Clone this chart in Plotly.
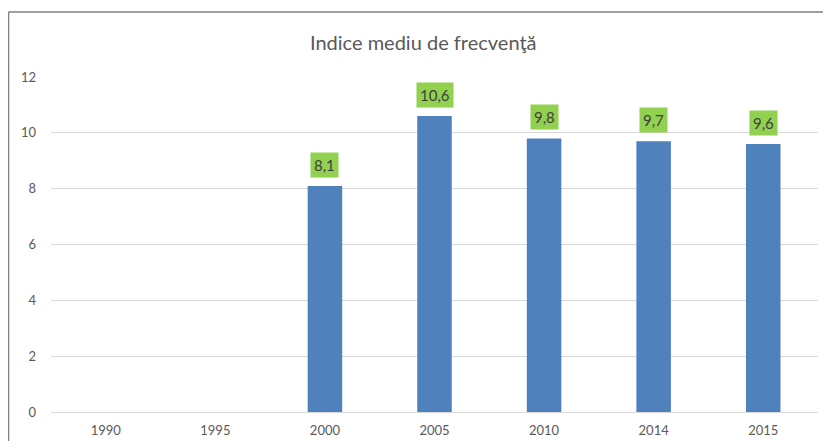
import plotly.graph_objects as go

years = ["1990", "1995", "2000", "2005", "2010", "2014", "2015"]
values = [None, None, 8.1, 10.6, 9.8, 9.7, 9.6]
title_text = "Indice mediu de frecvenţă"

# page body has an 8px margin; work in reference pixel coords then offset
OFF = 8
W, H = 831 - OFF, 441 - OFF
PL, PR, PT, PB = 51, 818, 77, 412  # plot area in reference pixels
L, T = PL - OFF, PT - OFF
R, B = W - (PR - OFF), H - (PB - OFF)
pw, ph = W - L - R, H - T - B

def px_x(p):
    return (p - OFF - L) / pw

def px_y(p):
    return (H - B - (p - OFF)) / ph

fig = go.Figure()
fig.add_trace(go.Bar(
    x=years, y=values,
    marker=dict(color="#4F81BD", line=dict(color="#4F81BD", width=0)),
    hoverinfo="x+y",
))

annotations = []
for i, v in enumerate(values):
    if v is None:
        continue
    annotations.append(dict(
        x=i, y=v, xref="x", yref="y",
        text=f"{v:.1f}".replace(".", ","),
        showarrow=False, yanchor="bottom", yshift=8,
        bgcolor="#92D050", borderpad=3,
        font=dict(family="Lato, Open Sans, sans-serif", size=15, color="#404040"),
    ))

annotations.append(dict(
    x=px_x(423), y=px_y(42), xref="paper", yref="paper",
    text=title_text, showarrow=False, xanchor="center", yanchor="middle",
    font=dict(family="Lato, Open Sans, sans-serif", size=20, color="#595959"),
))

shapes = [
    dict(type="line", xref="paper", yref="paper",
         x0=px_x(8.5), x1=px_x(8.5), y0=px_y(12), y1=px_y(460),
         line=dict(color="#7F7F7F", width=1.5)),
    dict(type="line", xref="paper", yref="paper",
         x0=px_x(8.5), x1=px_x(850), y0=px_y(12), y1=px_y(12),
         line=dict(color="#7F7F7F", width=1.5)),
]

fig.update_layout(
    width=W, height=H,
    autosize=False,
    margin=dict(l=L, r=R, t=T, b=B, pad=0, autoexpand=False),
    paper_bgcolor="white", plot_bgcolor="white",
    bargap=0.685,
    showlegend=False,
    annotations=annotations,
    shapes=shapes,
    font=dict(family="Lato, Open Sans, sans-serif", color="#595959"),
)
fig.update_xaxes(
    type="category", categoryorder="array", categoryarray=years,
    range=[-0.5, len(years) - 0.5], automargin=False,
    showgrid=False, showline=False, zeroline=False,
    ticks="", ticklabelstandoff=9,
    tickfont=dict(size=13, color="#595959"),
)
fig.update_yaxes(
    range=[0, 12], dtick=2, tick0=0, automargin=False,
    showgrid=True, gridcolor="#D9D9D9", gridwidth=1,
    zeroline=True, zerolinecolor="#D9D9D9", zerolinewidth=1,
    showline=False, ticks="", ticklabelstandoff=14,
    tickfont=dict(size=13, color="#595959"),
)

fig.write_html("out.html")
